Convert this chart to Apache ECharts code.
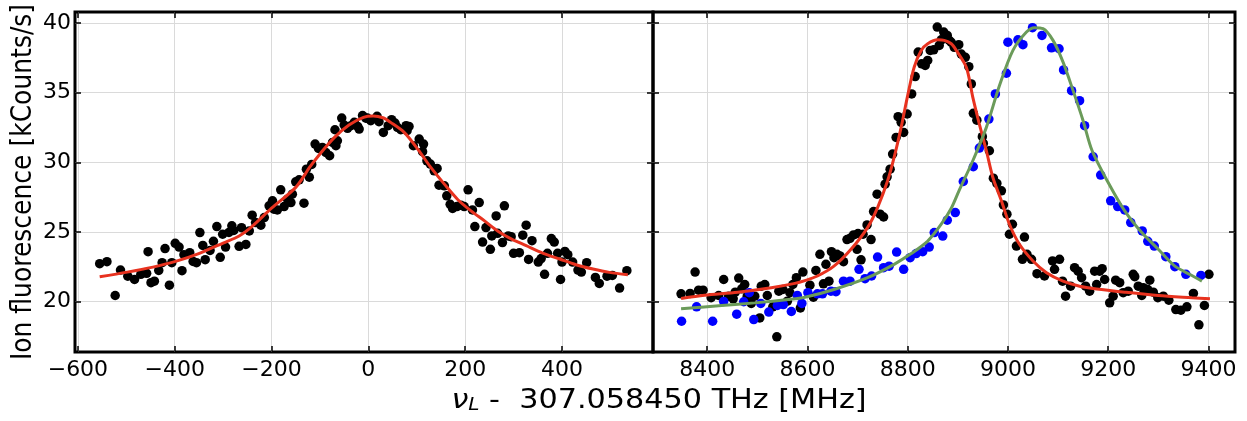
<!DOCTYPE html>
<html><head><meta charset="utf-8">
<script src="https://cdn.jsdelivr.net/npm/echarts@6/dist/echarts.min.js"></script>
<style>html,body{margin:0;padding:0;background:#fff}#c{width:1247px;height:421px}</style>
</head><body><div id="c"></div>
<script>
// ---- tick labels ----
const leftTicks = [-600, -400, -200, 0, 200, 400];
const rightTicks = [8400, 8600, 8800, 9000, 9200, 9400];
const yTicks = [20, 25, 30, 35, 40];

// ---- left panel: measured points (MHz, kCounts/s) ----
const leftPoints = [
[-555,22.72],[-540,22.86],[-523,20.43],[-512,22.26],[-497,21.82],[-483,21.58],[-470,21.95],[-458,22.02],[-455,23.58],[-449,21.35],[-442,21.46],[-433,22.23],[-426,22.79],[-420,23.80],[-411,21.17],[-406,22.79],[-399,24.18],[-391,23.91],[-385,22.21],[-381,23.36],[-369,23.51],[-362,22.88],[-355,22.79],[-348,24.95],[-342,24.03],[-337,23.0],[-327,23.67],[-320,24.32],[-313,25.38],[-306,23.17],[-301,24.83],
[-295,23.91],[-288,24.96],[-282,25.44],[-278,25.10],[-267,23.96],[-262,25.30],[-253,24.10],[-246,25.07],[-240,26.20],[-233,25.67],[-222,25.48],[-215,26.03],[-205,26.87],[-198,27.23],[-195,26.63],[-188,26.58],[-181,28.02],[-174,26.82],[-167,27.35],[-160,27.11],[-157,27.71],[-150,28.60],[-143,28.74],[-133,27.06],[-128,29.51],[-122,28.93],[-117,29.85],[-110,31.31],[-103,31.0],[-95,31.07],[-88,30.71],[-80,30.47],[-74,31.43],[-67,31.19],[-64,31.55],[-69,32.34],[-55,33.18],[-50,32.68],[-43,32.44],[-36,32.63],[-29,32.87],[-22,32.58],[-19,32.39],[-12,33.36],[-5,33.17],[-2,33.18],
[5,32.99],[18,33.31],[22,32.92],[31,32.15],[41,32.63],[48,33.06],[55,32.82],[60,32.51],[67,32.34],[78,32.63],[84,32.58],[80,32.27],[93,31.19],[105,31.67],[114,31.31],[112,30.76],[121,30.11],[128,29.87],[136,29.39],[142,29.56],[146,28.36],[157,28.31],[162,27.59],[169,26.98],[174,26.68],[183,26.82],[191,26.92],[198,26.82],[206,28.02],[215,26.58],[220,25.38],[229,27.11],[236,24.27],[243,25.31],[252,23.75],[255,24.71],[264,26.15],[267,24.90],[277,24.23],[281,26.87],[289,24.71],[295,24.66],[300,23.46],
[312,23.51],[319,24.76],[326,25.48],[331,23.02],[338,24.37],[351,22.83],[357,23.08],[364,21.95],[370,23.46],[378,24.52],[384,24.27],[391,23.46],[397,21.58],[400,22.83],[406,23.60],[412,23.36],[422,22.83],[433,22.26],[440,22.11],[451,22.79],[469,21.73],[477,21.30],[493,21.82],[504,21.87],[519,20.96],[534,22.21]
];
// left fit curve
const leftFit = [
[-555,21.78],[-498,22.11],[-445,22.47],[-400,22.86],[-349,23.46],[-300,24.2],[-267,24.71],[-240,25.4],[-200,26.7],[-150,28.2],[-120,29.7],[-100,30.6],[-70,31.79],[-40,32.68],[-10,33.23],[10,33.32],[30,33.2],[46,32.87],[74,32.15],[102,30.95],[129,29.63],[157,28.43],[184,27.35],[212,26.51],[240,25.79],[267,25.07],[295,24.5],[326,24.01],[360,23.48],[395,23.05],[429,22.64],[464,22.33],[498,22.09],[536,21.92]
];

// ---- right panel ----
const rightBlack = [
[8348,20.55],[8366,20.58],[8376,22.11],[8383,20.81],[8392,20.81],[8408,20.27],[8423,20.43],[8433,21.58],[8443,20.38],[8452,20.19],[8456,20.67],[8463,21.68],[8469,20.91],[8475,21.22],[8480,20.38],[8488,19.86],[8495,20.38],[8505,18.82],[8508,21.10],[8515,21.22],[8520,20.43],[8531,19.62],[8539,17.46],[8543,20.74],[8551,20.86],[8560,20.02],[8565,20.63],[8571,21.22],[8578,21.71],[8586,19.54],[8591,22.11],
[8605,21.17],[8612,20.31],[8617,22.23],[8625,23.39],[8632,21.27],[8637,22.67],[8643,21.46],[8648,23.58],[8653,23.15],[8659,23.39],[8665,23.27],[8672,22.86],[8679,24.45],[8685,24.54],[8692,24.78],[8699,23.75],[8701,24.88],[8707,22.99],[8711,24.83],[8719,25.50],[8727,24.45],[8732,26.46],[8739,27.71],[8745,26.27],[8752,26.07],[8755,28.43],[8759,28.96],[8765,29.51],[8770,30.59],[8777,31.79],[8781,33.28],[8787,32.87],[8792,32.15],[8799,33.47],[8808,34.91],[8815,36.16],[8821,37.92],[8828,37.08],[8835,36.96],[8840,37.32],[8845,38.04],[8852,38.08],[8859,39.72],[8863,38.40],[8867,38.80],[8872,39.36],[8879,39.12],[8883,38.76],
[8887,38.62],[8893,38.26],[8902,38.45],[8907,37.78],[8915,37.54],[8922,36.87],[8927,35.63],[8931,33.52],[8938,33.03],[8949,31.84],[8951,31.36],[8963,30.83],[8971,28.86],[8978,28.48],[8987,27.95],[8991,26.94],[8998,26.27],[9009,25.55],[9003,24.83],[9017,23.98],[9033,24.63],[9029,23.03],[9038,23.39],[9047,23.03],[9058,22.0],[9073,21.83],[9089,22.91],[9093,22.31],[9103,23.03],[9109,21.46],[9115,20.38],[9125,21.10],[9133,22.43],[9140,22.18],[9147,21.71],[9155,21.10],[9163,20.74],[9173,22.18],
[9177,21.22],[9183,22.18],[9188,22.36],[9193,21.58],[9203,19.90],[9210,20.38],[9215,21.53],[9223,21.35],[9230,20.63],[9240,20.74],[9250,21.95],[9253,21.78],[9260,21.10],[9267,20.43],[9270,20.99],[9279,20.86],[9283,21.53],[9290,20.67],[9299,20.27],[9310,20.38],[9321,20.09],[9335,19.42],[9345,19.37],[9357,19.62],[9370,20.58],[9381,18.32],[9392,19.71],[9401,21.95]
];
const rightBlue = [
[8349,18.58],[8379,19.62],[8411,18.58],[8433,20.0],[8459,19.09],[8473,19.98],[8484,20.63],[8493,18.70],[8507,19.86],[8523,19.24],[8540,19.71],[8552,19.78],[8568,19.28],[8580,20.43],[8589,19.86],
[8601,20.63],[8620,20.55],[8630,20.55],[8647,20.74],[8657,20.70],[8672,21.46],[8685,21.46],[8703,22.31],[8715,21.64],[8728,21.83],[8740,23.19],[8752,22.43],[8763,22.54],[8778,23.55],[8792,22.31],[8805,23.15],[8817,23.44],[8830,23.58],[8843,23.91],[8853,24.95],[8870,24.70],[8879,25.84],
[8895,26.39],[8911,28.62],[8931,29.68],[8943,31.02],[8962,33.11],[8975,34.91],[8997,36.40],[9000,38.63],[9020,38.80],[9030,38.45],[9049,39.67],[9068,39.12],[9087,38.23],[9102,38.16],[9111,36.64],[9127,35.15],[9143,34.43],[9153,32.63],[9170,30.40],
[9185,29.08],[9205,27.23],[9219,26.82],[9233,26.58],[9245,25.67],[9268,25.07],[9279,24.32],[9292,23.98],[9315,23.22],[9333,22.50],[9355,21.95],[9385,21.87]
];
const rightRedFit = [
[8348,20.22],[8395,20.45],[8461,20.67],[8528,20.99],[8575,21.30],[8595,21.5],[8620,21.83],[8653,22.54],[8687,23.75],[8720,25.31],[8740,26.75],[8760,28.67],[8773,30.35],[8787,32.51],[8800,34.79],[8813,36.83],[8827,38.04],[8840,38.52],[8860,38.80],[8873,38.76],[8887,38.52],[8897,38.04],[8917,36.83],[8930,34.67],[8943,32.75],[8957,30.83],[8970,28.91],[8987,27.23],[9003,25.55],[9023,24.11],[9050,22.91],[9077,22.07],[9110,21.46],[9143,21.10],[9177,20.9],[9233,20.67],[9300,20.43],[9367,20.27],[9403,20.19]
];
const rightGreenFit = [
[8348,19.47],[8429,19.71],[8495,19.90],[8562,20.14],[8595,20.3],[8653,20.86],[8720,21.71],[8773,22.67],[8807,23.44],[8840,24.34],[8867,25.55],[8887,26.7],[8903,28.0],[8930,30.11],[8957,32.51],[8983,35.50],[9010,38.04],[9037,39.36],[9053,39.67],[9070,39.60],[9090,38.76],[9110,37.20],[9130,35.15],[9150,32.99],[9168,30.83],[9200,28.55],[9233,26.51],[9267,24.95],[9300,23.75],[9333,22.54],[9367,21.87],[9387,21.46]
];

const FONT = 'DejaVu Sans';
const minus = v => String(v).replace('-', '\u2212');
const tickStyle = {color:'#000', width:1.5};
const gridLine = {show:true, lineStyle:{color:'#dadada', width:1}};
const noLine = {show:false, onZero:false};

function xPair(gi, min, max, ticks) {
  return [
    {type:'value', gridIndex:gi, position:'bottom', min, max,
     axisLine:noLine,
     axisTick:{show:true, inside:true, length:6, lineStyle:tickStyle, customValues:ticks},
     axisLabel:{show:true, customValues:ticks, formatter:minus, color:'#000', fontFamily:FONT, fontSize:22, margin:7},
     splitLine:gridLine},
    {type:'value', gridIndex:gi, position:'top', min, max,
     axisLine:noLine,
     axisTick:{show:true, inside:true, length:6, lineStyle:tickStyle, customValues:ticks},
     axisLabel:{show:false}, splitLine:{show:false}}
  ];
}
function yPair(gi, labels) {
  return [
    {type:'value', gridIndex:gi, position:'left', min:16.37, max:40.8,
     axisLine:noLine,
     axisTick:{show:true, inside:true, length:6, lineStyle:tickStyle, customValues:yTicks},
     axisLabel:{show:labels, customValues:yTicks, color:'#000', fontFamily:FONT, fontSize:22, margin:4},
     splitLine:gridLine},
    {type:'value', gridIndex:gi, position:'right', min:16.37, max:40.8,
     axisLine:noLine,
     axisTick:{show:true, inside:true, length:6, lineStyle:tickStyle, customValues:yTicks},
     axisLabel:{show:false}, splitLine:{show:false}}
  ];
}

const chart = echarts.init(document.getElementById('c'), null, {renderer:'canvas'});
const scatter = (data, xi, yi, color) => ({type:'scatter', data, xAxisIndex:xi, yAxisIndex:yi, symbolSize:9.5, itemStyle:{color, opacity:1}, silent:true});
const fit = (data, xi, yi, color) => ({type:'line', data, xAxisIndex:xi, yAxisIndex:yi, smooth:0.3, showSymbol:false, lineStyle:{color, width:3}, silent:true});

chart.setOption({
  animation:false,
  backgroundColor:'#fff',
  grid:[
    {left:75, right:594, top:12, bottom:69, show:true, borderColor:'#000', borderWidth:3, backgroundColor:'transparent'},
    {left:653, right:12, top:12, bottom:69, show:true, borderColor:'#000', borderWidth:3, backgroundColor:'transparent'}
  ],
  xAxis:[...xPair(0, -606, 588, leftTicks), ...xPair(1, 8292, 9453, rightTicks)],
  yAxis:[...yPair(0, true), ...yPair(1, false)],
  series:[
    scatter(leftPoints, 0, 0, '#000'),
    fit(leftFit, 0, 0, '#e8321f'),
    scatter(rightBlack, 2, 2, '#000'),
    scatter(rightBlue, 2, 2, '#0000ff'),
    fit(rightRedFit, 2, 2, '#e8321f'),
    fit(rightGreenFit, 2, 2, '#6b9b5a')
  ],
  graphic:[
    {type:'text', x:24, y:182, rotation:Math.PI/2, scaleY:1.1,
     style:{text:'Ion fluorescence [kCounts/s]', fill:'#000', fontFamily:FONT, fontSize:25, align:'center', verticalAlign:'middle', textAlign:'center', textVerticalAlign:'middle'}},
    {type:'text', x:659, y:401, scaleX:1.12,
     style:{text:'{v|ν}{s|L}{t| -  307.058450 THz [MHz]}', fill:'#000', align:'center', verticalAlign:'middle', textAlign:'center', textVerticalAlign:'middle',
       rich:{v:{fontFamily:FONT, fontSize:27, fontStyle:'italic', fill:'#000'},
             s:{fontFamily:FONT, fontSize:18, fontStyle:'italic', verticalAlign:'bottom', fill:'#000'},
             t:{fontFamily:FONT, fontSize:27, fill:'#000'}}}}
  ]
});
</script>
</body></html>
